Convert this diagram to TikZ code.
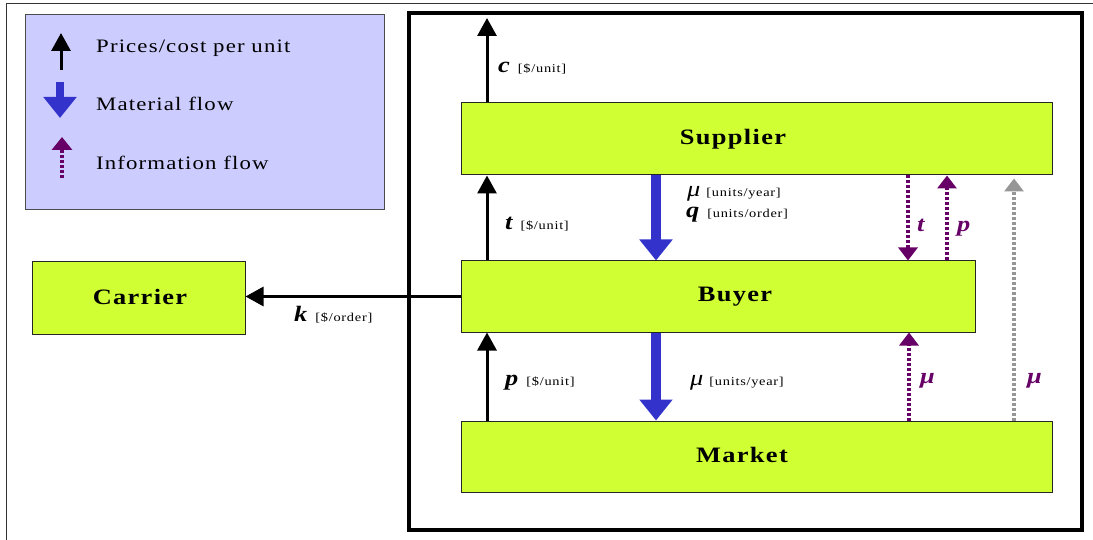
\documentclass[tikz,border=0pt]{standalone}
\usepackage{fontspec}
\setmainfont{Liberation Serif}
\newfontfamily\spfont{Liberation Serif}[LetterSpace=6,FakeStretch=1.2]
\usetikzlibrary{arrows.meta}
\definecolor{boxgreen}{RGB}{208,255,51}
\definecolor{legfill}{RGB}{204,204,255}
\definecolor{matblue}{RGB}{51,51,204}
\definecolor{infopurple}{RGB}{102,0,102}
\definecolor{infogrey}{RGB}{150,150,150}
\newcommand\varlbl[2]{{\fontsize{22}{24}\selectfont\bfseries\itshape #1}\hspace{8pt}[#2]}
\begin{document}
\begin{tikzpicture}[x=1pt,y=-1pt,
 entity/.style={draw=black!85, line width=1pt, fill=boxgreen, inner sep=0},
 boxtxt/.style={font=\spfont\bfseries\fontsize{22}{26}\selectfont, inner sep=0},
 legtxt/.style={font=\spfont\fontsize{19}{23}\selectfont, anchor=base west, inner sep=0},
 lbl/.style={anchor=base west, inner sep=0, font=\spfont\fontsize{12}{14}\selectfont},
 infolbl/.style={anchor=base west, inner sep=0, text=infopurple, font=\spfont\fontsize{22}{24}\selectfont\bfseries\itshape},
 price/.style={line width=3pt, -{Triangle[width=19pt,length=18pt]}},
 matflow/.style={line width=10pt, matblue, -{Triangle[width=32pt,length=21pt]}},
 info/.style={line width=4pt, infopurple, dash pattern=on 3pt off 2pt, -{Triangle[width=19pt,length=13pt]}},
]
\useasboundingbox (0,0) rectangle (1093,540);
% outer thin frame
\draw[line width=1pt, black!80] (6,540) -- (6,4) -- (1093,4);
% legend
\node[draw=black!70, line width=1pt, fill=legfill, minimum width=359pt, minimum height=195pt, inner sep=0] (legend) at (204.5,112) {};
\coordinate (l1top) at (61,33); \coordinate (l1bot) at (61,70);
\draw[price] (l1bot) -- (l1top);
\coordinate (l2top) at (60,82); \coordinate (l2bot) at (60,118);
\draw[line width=8pt, matblue, -{Triangle[width=32pt,length=21pt]}] (l2top) -- (l2bot);
\coordinate (l3top) at (62,137); \coordinate (l3bot) at (62,178);
\draw[info, -{Triangle[width=20pt,length=13pt]}] (l3bot) -- (l3top);
\node[legtxt] (leg1) at (96,53) {Prices/cost per unit};
\node[legtxt] (leg2) at (96,111) {Material flow};
\node[legtxt] (leg3) at (96,170) {Information flow};
% main frame
\node[draw, line width=4pt, minimum width=673pt, minimum height=517pt, inner sep=0] (frame) at (745.5,271.5) {};
% entities
\node[entity, minimum width=591pt, minimum height=72pt] (sup) at (756.5,139) {};
\node[entity, minimum width=514pt, minimum height=71pt] (buy) at (718,296.5) {};
\node[entity, minimum width=591pt, minimum height=71pt] (mkt) at (756.5,456.5) {};
\node[entity, minimum width=213pt, minimum height=72pt] (car) at (138.5,298) {};
\node[boxtxt] (suptxt) at (733,139) {Supplier};
\node[boxtxt] (buytxt) at (735,296.5) {Buyer};
\node[boxtxt] (mkttxt) at (742,455) {Market};
\node[boxtxt] (cartxt) at (140,297) {Carrier};
% price arrows
\coordinate (ctop) at (487,18);
\draw[price] (sup.north -| ctop) -- (ctop);
\draw[price] (buy.north -| ctop) -- (sup.south -| ctop);
\draw[price] (mkt.north -| ctop) -- (buy.south -| ctop);
\draw[price] (buy.west) -- (car.east |- buy.west);
% material flow
\coordinate (bx) at (656,0);
\draw[matflow] (sup.south -| bx) -- (buy.north -| bx);
\draw[matflow] (buy.south -| bx) -- (mkt.north -| bx);
% information flow
\coordinate (ti) at (908,0);
\coordinate (pi) at (947,0);
\coordinate (mi) at (909,0);
\coordinate (gi) at (1014,0);
\draw[info] (sup.south -| ti) -- (buy.north -| ti);
\draw[info] (buy.north -| pi) -- (sup.south -| pi);
\draw[info] (mkt.north -| mi) -- (buy.south -| mi);
\draw[info, infogrey, shorten >=3pt] (mkt.north -| gi) -- (sup.south -| gi);
% labels
\node[lbl] (clbl) at (498,73) {\varlbl{c}{\$/unit}};
\node[lbl] (tlbl) at (505,230) {\varlbl{t}{\$/unit}};
\node[lbl] (plbl) at (505,385) {\varlbl{p}{\$/unit}};
\node[lbl] (klbl) at (294,322) {\varlbl{k}{\$/order}};
\node[lbl] (mu1lbl) at (687,197) {{\fontsize{22}{24}\selectfont\itshape μ}\hspace{6pt}[units/year]};
\node[lbl] (qlbl) at (686,218) {\varlbl{q}{units/order}};
\node[lbl] (mu2lbl) at (690,385) {{\fontsize{22}{24}\selectfont\itshape μ}\hspace{6pt}[units/year]};
\node[infolbl] (tilbl) at (917,232) {t};
\node[infolbl] (pilbl) at (957,232) {p};
\node[infolbl] (milbl) at (920,383) {μ};
\node[infolbl] (gilbl) at (1027,383) {μ};
\end{tikzpicture}
\end{document}
